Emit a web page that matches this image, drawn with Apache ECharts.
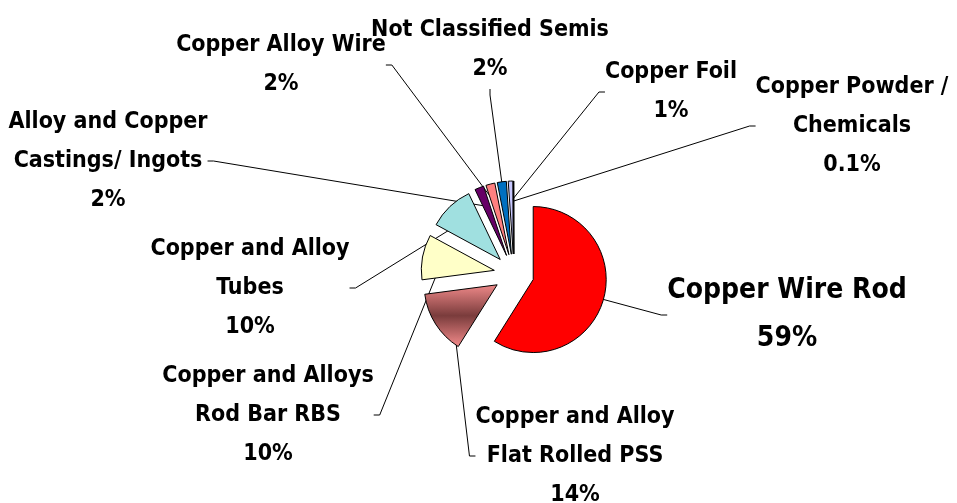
<!DOCTYPE html>
<html>
<head>
<meta charset="utf-8">
<script src="https://cdn.jsdelivr.net/npm/echarts@6/dist/echarts.min.js"></script>
<style>
html,body{margin:0;padding:0;background:#fff;}
#chart{width:957px;height:503px;}
</style>
</head>
<body>
<div id="chart"></div>
<script>
// Data
const categories = [
  'Copper Wire Rod',
  'Copper and Alloy\nFlat Rolled PSS',
  'Copper and Alloys\nRod Bar RBS',
  'Copper and Alloy\nTubes',
  'Alloy and Copper\nCastings/ Ingots',
  'Copper Alloy Wire',
  'Not Classified Semis',
  'Copper Foil',
  'Copper Powder /\nChemicals'
];
const values = [59, 14, 10, 10, 2, 2, 2, 1, 0.1];
const percentLabels = ['59%', '14%', '10%', '10%', '2%', '2%', '2%', '1%', '0.1%'];

// Styling (not data)
const colors = [
  '#FF0000',
  null,
  '#FFFFC8',
  '#A0E0E0',
  '#660066',
  '#FF8080',
  '#0070C0',
  '#C8C8FF',
  '#000000'
];
const pssGradient = new echarts.graphic.LinearGradient(0, 0, 0, 1, [
  {offset: 0, color: '#F08A8A'},
  {offset: 0.5, color: '#7A3C3C'},
  {offset: 1, color: '#F58C8C'}
]);
// label block centres (layout)
const labelPos = [
  [787, 315], [575, 456], [268, 415], [250, 288], [108, 161],
  [281, 65], [490, 50], [671, 92], [852, 126]
];

const FONT = "'DejaVu Sans Condensed', 'DejaVu Sans', sans-serif";
const CENTER = [514, 274];
const RADIUS = 73;

const pieData = categories.map((c, i) => ({
  name: c,
  value: values[i],
  selected: true,
  itemStyle: { color: i === 1 ? pssGradient : colors[i] }
}));
const labelData = categories.map((c, i) => ({
  name: c,
  value: values[i],
  label: i === 0 ? { fontSize: 28, lineHeight: 48 } : {}
}));

const chart = echarts.init(document.getElementById('chart'), null, {renderer: 'canvas'});
chart.setOption({
  animation: false,
  backgroundColor: '#ffffff',
  series: [{
    // label carrier, drawn underneath the exploded slices
    type: 'pie',
    z: 1,
    silent: true,
    center: CENTER,
    radius: RADIUS,
    startAngle: 90,
    clockwise: true,
    avoidLabelOverlap: false,
    itemStyle: { color: 'rgba(0,0,0,0)', borderWidth: 0 },
    emphasis: { disabled: true },
    label: {
      show: true,
      position: 'outside',
      fontFamily: FONT,
      fontWeight: 'bold',
      fontSize: 23,
      lineHeight: 39,
      color: '#000',
      align: 'center',
      formatter: p => p.name + '\n' + percentLabels[p.dataIndex]
    },
    labelLine: {
      show: true,
      length: 10,
      length2: 6,
      lineStyle: { color: '#000', width: 1 }
    },
    labelLayout: function (params) {
      const p = labelPos[params.dataIndex];
      return { x: p[0], y: p[1], align: 'center', verticalAlign: 'middle' };
    },
    data: labelData
  }, {
    // exploded slices
    type: 'pie',
    z: 2,
    center: CENTER,
    radius: RADIUS,
    startAngle: 90,
    clockwise: true,
    selectedMode: 'multiple',
    selectedOffset: 20,
    itemStyle: { borderColor: '#000', borderWidth: 1 },
    emphasis: { disabled: true },
    label: { show: false },
    labelLine: { show: false },
    data: pieData
  }]
});
</script>
</body>
</html>
